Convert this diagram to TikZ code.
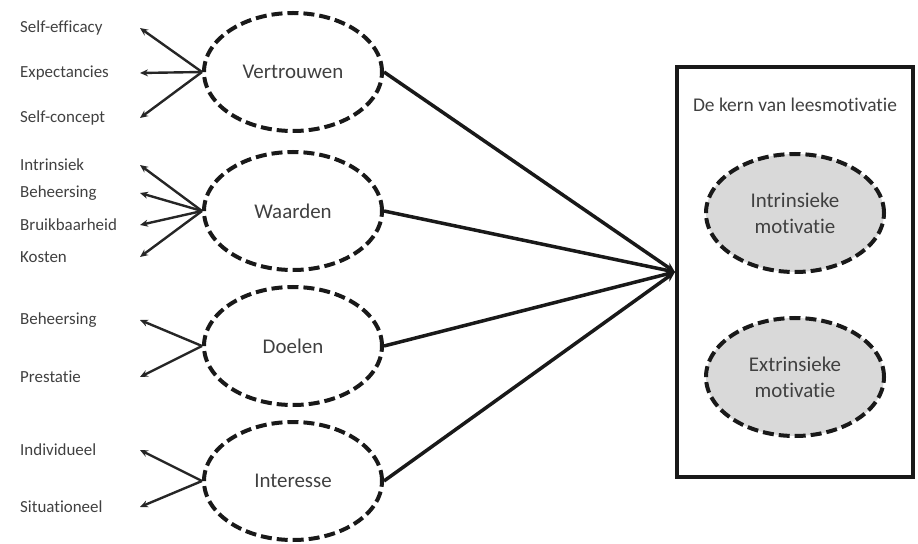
\documentclass[tikz,border=0pt]{standalone}
\usepackage{fontspec}
\setmainfont{Carlito}[RawFeature=-liga]
\usetikzlibrary{shapes.geometric,arrows.meta,positioning}
\definecolor{corefill}{RGB}{217,217,217}
\definecolor{txtgray}{RGB}{64,64,64}

\begin{document}
\begin{tikzpicture}[
    x=1bp, y=-1bp,
    every node/.style={text=txtgray},
    factor/.style={ellipse, draw=black!90, line width=4bp, dash pattern=on 11bp off 5bp, minimum width=178bp, minimum height=118bp, inner sep=0pt, font=\fontsize{21}{26}\selectfont, align=center},
    core/.style={factor, fill=corefill},
    item/.style={anchor=west, inner sep=0pt, font=\fontsize{17}{20}\selectfont},
    kernbox/.style={draw=black!90, line width=4bp, minimum width=236bp, minimum height=410bp, inner sep=0pt},
    leaf/.style={draw=black!85, line width=2.4bp, -{Stealth[length=8bp, width=7bp]}},
    main/.style={draw=black!90, line width=3.5bp, -{Stealth[length=10bp, width=9bp]}}
]
\useasboundingbox (0,0) rectangle (918,544);

\node[factor] (vert) at (293,72) {Vertrouwen};
\node[factor] (waard) at (293,211) {Waarden};
\node[factor] (doel) at (293,346) {Doelen};
\node[factor] (inter) at (293,481) {Interesse};

\node[kernbox] (kern) at (795,272) {};
\node[font=\fontsize{19.5}{22}\selectfont] (kern_t) at (795,105) {De kern van leesmotivatie};
\node[core] (intr) at (795,213) {Intrinsieke\\motivatie};
\node[core] (extr) at (795,377) {Extrinsieke\\motivatie};

\coordinate (tipx) at (140,0);

\node[item] (v_se) at (20,28) {Self-efficacy};
\node[item] (v_ex) at (20,73) {Expectancies};
\node[item] (v_sc) at (20,118) {Self-concept};

\node[item] (w_in) at (20,165) {Intrinsiek};
\node[item] (w_be) at (20,193) {Beheersing};
\node[item] (w_br) at (20,225) {Bruikbaarheid};
\node[item] (w_ko) at (20,257) {Kosten};

\node[item] (d_be) at (20,320) {Beheersing};
\node[item] (d_pr) at (20,377) {Prestatie};

\node[item] (i_in) at (20,450) {Individueel};
\node[item] (i_si) at (20,507) {Situationeel};

\foreach \f/\l in {vert/v_se, vert/v_ex, vert/v_sc, waard/w_in, waard/w_be, waard/w_br, waard/w_ko, doel/d_be, doel/d_pr, inter/i_in, inter/i_si}
    \draw[leaf] (\f.west) -- (\l.east -| tipx);

\foreach \f in {vert, waard, doel, inter}
    \draw[main] (\f.east) -- (kern.west);
\end{tikzpicture}
\end{document}
